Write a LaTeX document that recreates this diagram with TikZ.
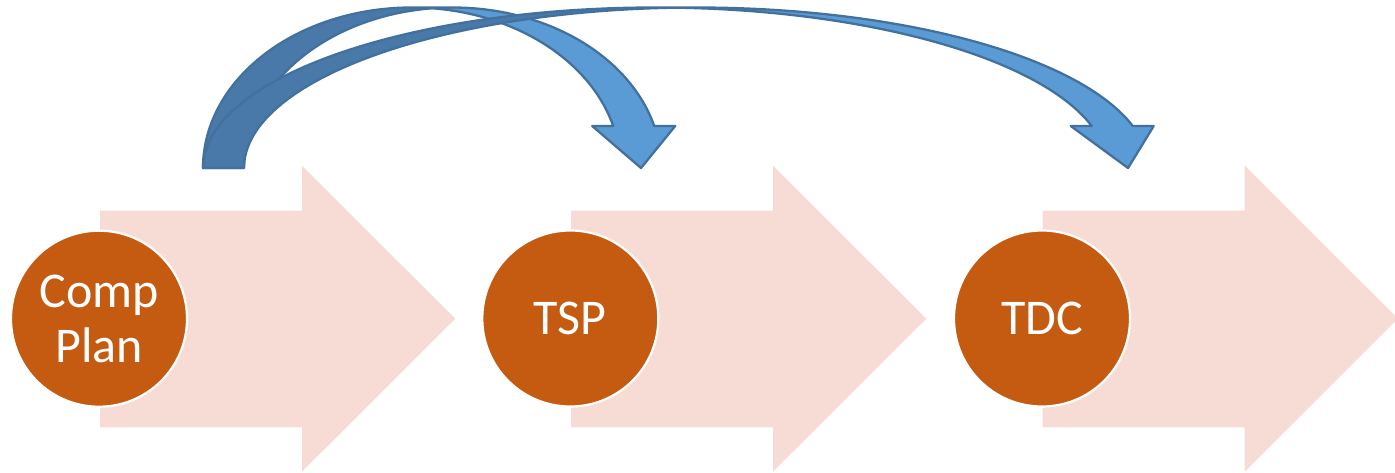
\documentclass[tikz,border=0pt]{standalone}
\usepackage{fontspec}
\setmainfont{Carlito}
\definecolor{stagefill}{RGB}{197,90,17}
\definecolor{bandpink}{RGB}{247,220,213}
\definecolor{ribbonfront}{RGB}{91,155,213}
\definecolor{ribbonback}{RGB}{72,121,169}
\definecolor{ribbonedge}{RGB}{65,113,156}
\tikzset{
  stage/.style={circle, fill=stagefill, draw=white, line width=2.2pt,
    minimum size=176pt, inner sep=0pt, text=white, align=center,
    font=\fontsize{50}{55}\selectfont},
  band/.style={fill=bandpink},
  ribbon edge/.style={draw=ribbonedge, line width=2.3pt, line join=round},
}
% block arrow whose shaft starts at x = #1
\newcommand{\flowband}[1]{%
  \fill[band] (#1,210.7) -- (#1+202,210.7) -- (#1+202,165.7) -- (#1+355.3,318.7)
    -- (#1+202,471.7) -- (#1+202,427.3) -- (#1,427.3) -- cycle;}
% curved down arrow: left, bottom, height, shaft, head width, head length, total width
\newcommand{\ribbonarrow}[7]{%
  \pgfmathsetmacro{\rbR}{#7/2-(#4+#5)/4}%
  \pgfmathsetmacro{\rbA}{#1+\rbR}%
  \pgfmathsetmacro{\rbB}{#1+\rbR+#4}%
  \pgfmathsetmacro{\rbH}{asin(#6/#3)}%
  \pgfmathsetmacro{\rbD}{\rbR*cos(\rbH)}%
  \pgfmathsetmacro{\rbY}{#2-#6}%
  \pgfmathsetmacro{\rbW}{(#5-#4)/2}%
  \pgfmathsetmacro{\rbT}{#1+2*\rbR+#4/2}%
  \pgfmathsetmacro{\rbI}{acos(#4/(2*\rbR))}%
  \pgfmathsetmacro{\rbJ}{180-\rbI}%
  % front face, from the top to the head
  \fill[ribbonfront] (\rbT,#2) -- (\rbA+\rbD-\rbW,\rbY) -- (\rbA+\rbD,\rbY)
    -- plot[domain=\rbH:90,samples=60] ({\rbA+\rbR*cos(\x)},{#2-#3*sin(\x)})
    -- plot[domain=90:\rbH,samples=60] ({\rbB+\rbR*cos(\x)},{#2-#3*sin(\x)})
    -- (\rbB+\rbD+\rbW,\rbY) -- cycle;
  % back face, from the tail to the crossing of the two edges
  \fill[ribbonback] plot[domain=180:\rbI,samples=60] ({\rbA+\rbR*cos(\x)},{#2-#3*sin(\x)})
    -- plot[domain=\rbJ:180,samples=60] ({\rbB+\rbR*cos(\x)},{#2-#3*sin(\x)}) -- cycle;
  % outline
  \draw[ribbon edge] plot[domain=\rbJ:180,samples=60] ({\rbB+\rbR*cos(\x)},{#2-#3*sin(\x)})
    -- plot[domain=180:90,samples=90] ({\rbA+\rbR*cos(\x)},{#2-#3*sin(\x)})
    -- plot[domain=90:\rbH,samples=60] ({\rbB+\rbR*cos(\x)},{#2-#3*sin(\x)})
    -- (\rbB+\rbD+\rbW,\rbY) -- (\rbT,#2) -- (\rbA+\rbD-\rbW,\rbY) -- (\rbA+\rbD,\rbY)
    -- plot[domain=\rbH:90,samples=60] ({\rbA+\rbR*cos(\x)},{#2-#3*sin(\x)});
}
\begin{document}
\begin{tikzpicture}[x=1pt,y=-1pt]
\useasboundingbox (0,0) rectangle (1395,473);
\flowband{100}
\flowband{571}
\flowband{1042.7}
\node[stage] (cp) at (99,318.7) {Comp\\Plan};
\node[stage] (tsp) at (570.3,318.5) {TSP};
\node[stage] (tdc) at (1042,318.5) {TDC};
\ribbonarrow{203}{168}{160.5}{41}{83}{42}{479.5}
\ribbonarrow{203}{168}{160.5}{41}{83}{42}{966.5}
\end{tikzpicture}
\end{document}
